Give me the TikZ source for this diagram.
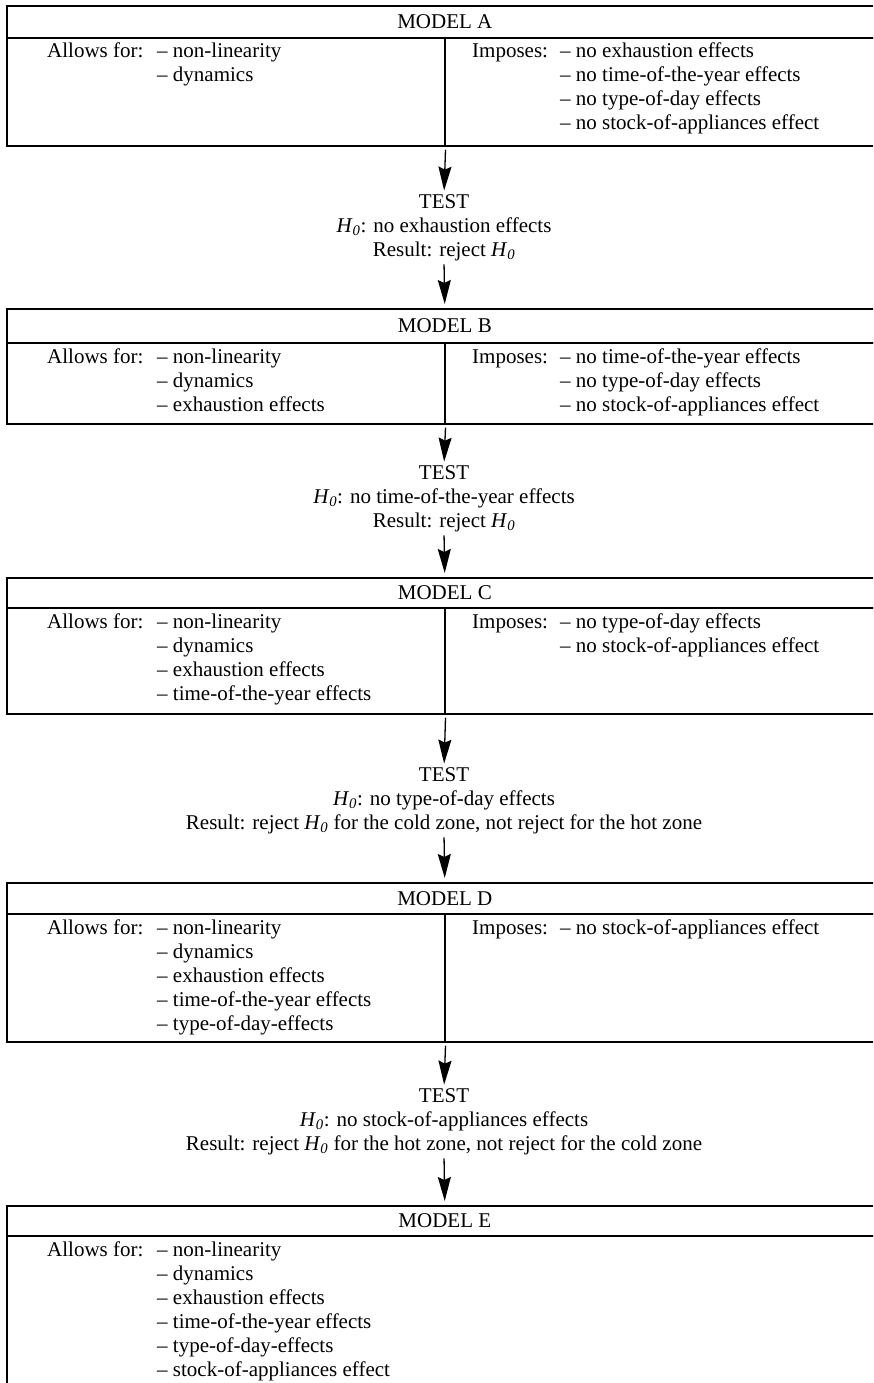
\documentclass[tikz,border=0pt]{standalone}
\usepackage{fontspec}
\setmainfont{Liberation Serif}
\usetikzlibrary{arrows.meta}
\newcommand{\Hnull}{\textit{H}\textsubscript{\textit{0}}}

\begin{document}
\begin{tikzpicture}[x=1pt,y=-1pt,
font=\fontsize{21}{24}\selectfont,
header/.style={draw, line width=1.6pt, minimum width=876pt, anchor=north west, inner sep=0pt},
half/.style={draw, line width=1.6pt, minimum width=438pt, anchor=north west, inner sep=0pt},
list/.style={anchor=north west, inner sep=0pt},
test/.style={align=center, inner sep=0pt},
flow/.style={-{Stealth[length=24pt,width=13pt,inset=3pt]}, line width=1.3pt, shorten >=4pt, shorten <=3pt}
]
    \useasboundingbox (0,0) rectangle (873,1383);
    \clip (0,0) rectangle (873,1383);

    % model A
    \node [header, minimum height=32pt] (hA) at (6,5) {MODEL A};
    \node [half, minimum height=108pt] (lA) at (6,37) {};
    \node [half, minimum height=108pt] (rA) at (444,37) {};
    \node [list] (aA) at (47,41) {\begin{tabular}{@{}p{110pt}@{}l@{}}
        Allows for: & -- non-linearity\\ & -- dynamics\end{tabular}};
    \node [list] (iA) at (472,41) {\begin{tabular}{@{}p{88pt}@{}l@{}}
        Imposes: & -- no exhaustion effects\\ & -- no time-of-the-year effects\\
        & -- no type-of-day effects\\ & -- no stock-of-appliances effect\end{tabular}};

    \node [test] (tA) at (444,228) {TEST\\ \Hnull: no exhaustion effects\\ Result: reject \Hnull};

    % model B
    \node [header, minimum height=34pt] (hB) at (6,308) {MODEL B};
    \node [half, minimum height=81pt] (lB) at (6,342) {};
    \node [half, minimum height=81pt] (rB) at (444,342) {};
    \node [list] (aB) at (47,346) {\begin{tabular}{@{}p{110pt}@{}l@{}}
        Allows for: & -- non-linearity\\ & -- dynamics\\ & -- exhaustion effects\end{tabular}};
    \node [list] (iB) at (472,346) {\begin{tabular}{@{}p{88pt}@{}l@{}}
        Imposes: & -- no time-of-the-year effects\\ & -- no type-of-day effects\\
        & -- no stock-of-appliances effect\end{tabular}};

    \node [test] (tB) at (444,499) {TEST\\ \Hnull: no time-of-the-year effects\\ Result: reject \Hnull};

    % model C
    \node [header, minimum height=30pt] (hC) at (6,577) {MODEL C};
    \node [half, minimum height=106pt] (lC) at (6,607) {};
    \node [half, minimum height=106pt] (rC) at (444,607) {};
    \node [list] (aC) at (47,611) {\begin{tabular}{@{}p{110pt}@{}l@{}}
        Allows for: & -- non-linearity\\ & -- dynamics\\ & -- exhaustion effects\\
        & -- time-of-the-year effects\end{tabular}};
    \node [list] (iC) at (472,611) {\begin{tabular}{@{}p{88pt}@{}l@{}}
        Imposes: & -- no type-of-day effects\\ & -- no stock-of-appliances effect\end{tabular}};

    \node [test] (tC) at (444,801) {TEST\\ \Hnull: no type-of-day effects\\
        Result: reject \Hnull\ for the cold zone, not reject for the hot zone};

    % model D
    \node [header, minimum height=31pt] (hD) at (6,882) {MODEL D};
    \node [half, minimum height=128pt] (lD) at (6,913) {};
    \node [half, minimum height=128pt] (rD) at (444,913) {};
    \node [list] (aD) at (47,917) {\begin{tabular}{@{}p{110pt}@{}l@{}}
        Allows for: & -- non-linearity\\ & -- dynamics\\ & -- exhaustion effects\\
        & -- time-of-the-year effects\\ & -- type-of-day-effects\end{tabular}};
    \node [list] (iD) at (472,917) {\begin{tabular}{@{}p{88pt}@{}l@{}}
        Imposes: & -- no stock-of-appliances effect\end{tabular}};

    \node [test] (tD) at (444,1122) {TEST\\ \Hnull: no stock-of-appliances effects\\
        Result: reject \Hnull\ for the hot zone, not reject for the cold zone};

    % model E
    \node [header, minimum height=30pt] (hE) at (6,1205) {MODEL E};
    \node [header, minimum height=200pt] (bE) at (6,1235) {};
    \node [list] (aE) at (47,1239) {\begin{tabular}{@{}p{110pt}@{}l@{}}
        Allows for: & -- non-linearity\\ & -- dynamics\\ & -- exhaustion effects\\
        & -- time-of-the-year effects\\ & -- type-of-day-effects\\
        & -- stock-of-appliances effect\end{tabular}};

    \draw [flow] (lA.south east) -- (tA.north);
    \draw [flow] (tA.south) -- (hB.north);
    \draw [flow] (lB.south east) -- (tB.north);
    \draw [flow] (tB.south) -- (hC.north);
    \draw [flow] (lC.south east) -- (tC.north);
    \draw [flow] (tC.south) -- (hD.north);
    \draw [flow] (lD.south east) -- (tD.north);
    \draw [flow] (tD.south) -- (hE.north);
\end{tikzpicture}
\end{document}
